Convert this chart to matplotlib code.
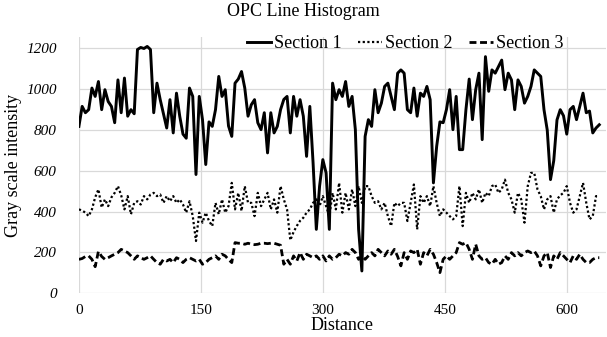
import numpy as np
import matplotlib
matplotlib.use("Agg")
import matplotlib.pyplot as plt

distance = list(range(0, 644, 4))

section1 = [818, 916, 885, 900, 1006, 965, 1038, 900, 998, 940,
            916, 836, 1046, 885, 1055, 868, 900, 880, 1195, 1205,
            1200, 1210, 1195, 885, 1030, 949, 880, 810, 949, 786,
            981, 868, 780, 760, 1006, 965, 582, 965, 851, 631,
            840, 818, 900, 1063, 965, 998, 820, 769, 1030, 1050,
            1087, 1006, 868, 924, 949, 836, 802, 885, 688, 885,
            786, 818, 900, 950, 965, 786, 965, 868, 949, 868,
            671, 916, 639, 313, 525, 655, 590, 313, 1030, 949,
            998, 965, 1038, 916, 965, 802, 313, 109, 769, 851,
            818, 998, 885, 932, 1014, 1030, 965, 900, 1079, 1095,
            1079, 900, 885, 1006, 868, 981, 965, 1014, 949, 541,
            720, 840, 836, 900, 998, 802, 965, 704, 704, 900,
            1050, 851, 998, 1079, 753, 1160, 990, 1095, 1079, 1111,
            1143, 998, 1079, 1046, 900, 1046, 1014, 932, 965, 1014,
            1095, 1079, 1063, 900, 800, 557, 650, 850, 900, 870,
            780, 900, 916, 851, 916, 981, 885, 893, 786, 810,
            826]

section2 = [411, 405, 395, 378, 411, 470, 509, 420, 460, 427,
            470, 492, 525, 480, 411, 476, 387, 443, 451, 435,
            476, 460, 484, 492, 476, 484, 443, 476, 451, 476,
            443, 460, 435, 395, 451, 378, 256, 395, 346, 395,
            354, 329, 443, 387, 460, 395, 427, 541, 411, 492,
            403, 525, 443, 443, 378, 492, 427, 460, 492, 411,
            460, 395, 525, 460, 411, 260, 300, 330, 355, 370,
            395, 411, 443, 460, 427, 476, 427, 378, 492, 411,
            541, 395, 492, 411, 509, 427, 525, 443, 525, 525,
            476, 443, 451, 411, 443, 378, 329, 443, 427, 443,
            443, 354, 443, 533, 313, 476, 443, 476, 427, 525,
            443, 378, 411, 395, 378, 362, 378, 525, 329, 492,
            443, 492, 460, 509, 443, 492, 476, 525, 533, 492,
            509, 557, 492, 460, 395, 492, 460, 346, 525, 590,
            590, 509, 476, 411, 460, 476, 395, 460, 480, 492,
            525, 443, 395, 411, 476, 541, 443, 362, 378, 476,
            476]

section3 = [166, 170, 180, 183, 166, 130, 205, 180, 166, 174,
            183, 191, 199, 215, 207, 199, 183, 166, 183, 174,
            166, 174, 183, 166, 150, 142, 166, 158, 166, 150,
            174, 166, 150, 166, 174, 166, 158, 166, 142, 150,
            166, 174, 183, 166, 191, 183, 165, 150, 248, 245,
            245, 240, 245, 240, 238, 240, 245, 245, 243, 245,
            245, 240, 235, 142, 166, 142, 183, 158, 199, 166,
            191, 183, 174, 183, 166, 183, 158, 183, 166, 174,
            191, 183, 199, 191, 215, 199, 166, 183, 166, 183,
            199, 183, 215, 199, 183, 207, 191, 215, 180, 134,
            199, 166, 207, 199, 215, 142, 199, 183, 215, 191,
            150, 101, 166, 183, 166, 183, 199, 248, 240, 248,
            215, 166, 240, 183, 166, 174, 150, 142, 166, 142,
            150, 183, 166, 199, 183, 199, 183, 199, 207, 199,
            207, 183, 134, 183, 199, 126, 183, 166, 199, 183,
            166, 150, 183, 166, 191, 166, 150, 150, 166, 174,
            174]

series_names = ["Section 1", "Section 2", "Section 3"]
x_ticks = [0, 150, 300, 450, 600]
y_ticks = [0, 200, 400, 600, 800, 1000, 1200]

assert len(distance) == len(section1) == len(section2) == len(section3)

# ---- figure ----
plt.rcParams['font.family'] = ['Liberation Serif', 'DejaVu Serif']

fig = plt.figure(figsize=(6.07, 3.37), dpi=100)
ax = fig.add_axes([0.130, 0.130, 0.868, 0.760])

ax.plot(distance, section1, color='black', lw=2.1, linestyle='-',
        label=series_names[0])
ax.plot(distance, section2, color='black', lw=1.6, linestyle=(0, (1, 1.1)),
        label=series_names[1])
ax.plot(distance, section3, color='black', lw=2.0, linestyle=(0, (2.5, 1.3)),
        label=series_names[2])

ax.set_xlim(0, 648)
ax.set_ylim(0, 1256)
ax.set_xticks(x_ticks)
ax.set_yticks(y_ticks)
ax.grid(True, color='#d9d9d9', lw=0.9)
ax.set_axisbelow(True)
for s in ax.spines.values():
    s.set_visible(False)
ax.tick_params(axis='both', length=0)
ax.tick_params(axis='x', pad=8, labelsize=11)
ax.tick_params(axis='y', pad=16, labelsize=11)
for lab in ax.get_yticklabels():
    lab.set_fontstyle('italic')

ax.set_xlabel("Distance", fontsize=13, labelpad=0)
ax.set_ylabel("Gray scale intensity", fontsize=13, labelpad=3)
fig.suptitle("OPC Line Histogram", fontsize=13, y=0.99)

leg = ax.legend(loc='center', bbox_to_anchor=(0.62, 0.975), ncol=3,
                frameon=False, fontsize=13, handlelength=1.3,
                handletextpad=0.2, columnspacing=0.9, borderaxespad=0)

fig.savefig("out.png", dpi=100)
